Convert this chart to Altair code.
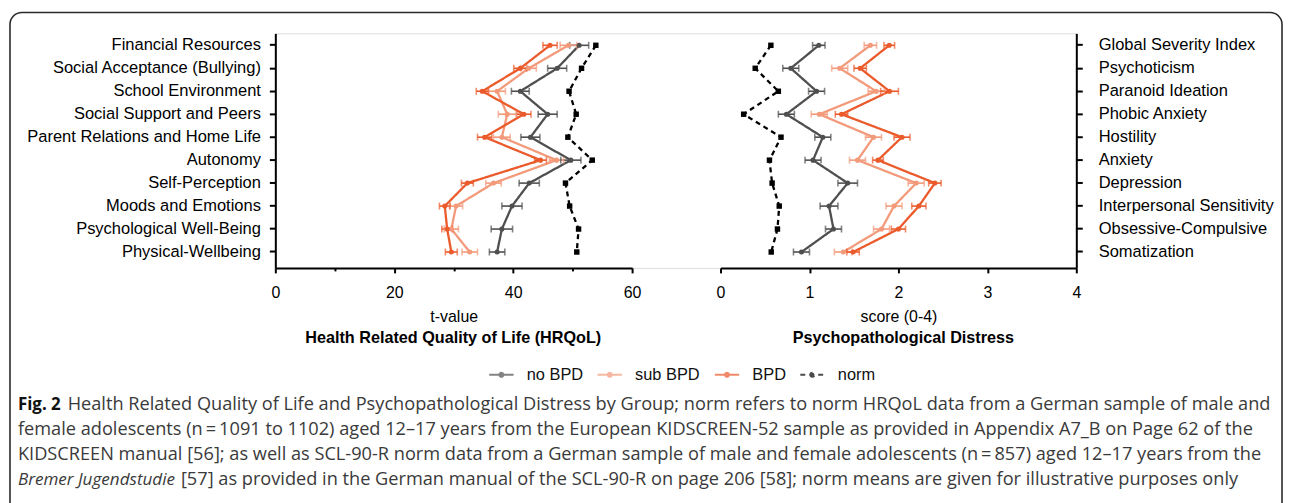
import altair as alt
import pandas as pd

# ---------------- data ----------------
hrqol_rows = ["Financial Resources", "Social Acceptance (Bullying)", "School Environment",
              "Social Support and Peers", "Parent Relations and Home Life", "Autonomy",
              "Self-Perception", "Moods and Emotions", "Psychological Well-Being",
              "Physical-Wellbeing"]
scl_rows = ["Global Severity Index", "Psychoticism", "Paranoid Ideation", "Phobic Anxiety",
            "Hostility", "Anxiety", "Depression", "Interpersonal Sensitivity",
            "Obsessive-Compulsive", "Somatization"]
groups = ["no BPD", "sub BPD", "BPD", "norm"]
group_colors = ["#4f4f4f", "#f39a7b", "#eb5a2b", "#000000"]

hrqol_no = [51.1, 47.4, 41.2, 45.8, 42.9, 49.7, 42.7, 39.8, 38.1, 37.3]
hrqol_sub = [49.3, 42.6, 37.3, 39.0, 38.1, 47.3, 36.7, 30.4, 29.6, 32.7]
hrqol_bpd = [46.2, 41.2, 34.8, 41.8, 35.2, 44.6, 32.3, 28.5, 28.9, 29.6]
hrqol_norm = [53.9, 51.5, 49.4, 50.6, 49.2, 53.3, 48.8, 49.5, 51.0, 50.7]
hrqol_no_err = [1.6, 1.6, 1.5, 1.6, 1.6, 1.7, 1.7, 1.7, 1.8, 1.3]
hrqol_sub_err = [1.4, 1.3, 1.4, 1.5, 1.4, 1.2, 1.3, 1.1, 1.2, 1.3]
hrqol_bpd_err = [1.2, 1.1, 1.0, 1.2, 1.2, 1.0, 1.0, 0.9, 0.9, 1.0]

scl_no = [1.105, 0.79, 1.08, 0.74, 1.15, 1.04, 1.43, 1.22, 1.27, 0.91]
scl_sub = [1.685, 1.34, 1.75, 1.11, 1.72, 1.54, 2.20, 1.95, 1.81, 1.38]
scl_bpd = [1.897, 1.57, 1.90, 1.36, 2.04, 1.77, 2.41, 2.23, 2.00, 1.49]
scl_norm = [0.566, 0.39, 0.65, 0.26, 0.68, 0.55, 0.58, 0.66, 0.64, 0.57]
scl_no_err = [0.07, 0.09, 0.09, 0.09, 0.09, 0.09, 0.11, 0.10, 0.09, 0.09]
scl_sub_err = [0.07, 0.09, 0.09, 0.09, 0.09, 0.09, 0.09, 0.09, 0.09, 0.10]
scl_bpd_err = [0.06, 0.07, 0.10, 0.07, 0.09, 0.06, 0.07, 0.08, 0.08, 0.07]

left_ticks = [0, 20, 40, 60]
left_minor_ticks = [10, 30, 50]
right_ticks = [0, 1, 2, 3, 4]

panel_titles = ["Health Related Quality of Life (HRQoL)", "Psychopathological Distress"]
axis_titles = ["t-value", "score (0-4)"]

caption_bold = "Fig. 2"
caption_lines = [
    "Health Related Quality of Life and Psychopathological Distress by Group; norm refers to norm HRQoL data from a German sample of male and",
    "female adolescents (n\u2009=\u20091091 to 1102) aged 12\u201317 years from the European KIDSCREEN-52 sample as provided in Appendix A7_B on Page 62 of the",
    "KIDSCREEN manual [56]; as well as SCL-90-R norm data from a German sample of male and female adolescents (n\u2009=\u2009857) aged 12\u201317 years from the",
    "[57] as provided in the German manual of the SCL-90-R on page 206 [58]; norm means are given for illustrative purposes only",
]
caption_italic = "Bremer Jugendstudie"


def long_df(rows, series, errs):
    recs = []
    for g, vals, err in zip(groups, series, errs):
        for i, (r, v) in enumerate(zip(rows, vals)):
            e = err[i] if err is not None else 0.0
            recs.append({"row": r, "idx": i, "group": g, "value": v,
                         "lo": v - e, "hi": v + e, "haserr": err is not None})
    return pd.DataFrame(recs)


left_df = long_df(hrqol_rows, [hrqol_no, hrqol_sub, hrqol_bpd, hrqol_norm],
                  [hrqol_no_err, hrqol_sub_err, hrqol_bpd_err, None])
right_df = long_df(scl_rows, [scl_no, scl_sub, scl_bpd, scl_norm],
                   [scl_no_err, scl_sub_err, scl_bpd_err, None])

# ---------------- styling ----------------
FONT = "Liberation Sans"
CAP_FONT = "Open Sans"

# plot origin on page: (277, 32); plot area spans both panels
W, H = 806, 236
PAD = {"left": 269, "top": 24, "right": 209, "bottom": 235}

legend_symbol = "M-1,0L1,0M-0.16,0A0.16,0.16,0,1,0,0.16,0A0.16,0.16,0,1,0,-0.16,0Z"
legend = alt.Legend(orient="none", legendX=214, legendY=330, direction="horizontal",
                    title=None, symbolType=legend_symbol, symbolSize=600, symbolStrokeWidth=2.2,
                    labelFont=FONT, labelFontSize=16.5, labelColor="#111", labelOffset=12,
                    columnPadding=9)
color = alt.Color("group:N", scale=alt.Scale(domain=groups, range=group_colors), legend=legend)
dash = alt.StrokeDash("group:N", scale=alt.Scale(domain=groups,
                      range=[[1, 0], [1, 0], [1, 0], [5, 4]]), legend=legend)

yscale_kw = dict(range=[0, H], paddingInner=0, paddingOuter=0.106, align=0.09)


def panel(df, rows, xdomain, xrange, ticks, xtitle, yorient, ypad):
    xaxis = alt.Axis(orient="bottom", values=ticks, tickSize=5, tickWidth=2, tickColor="black",
                     domainColor="black", domainWidth=2, labelFont=FONT, labelFontSize=16,
                     labelColor="black", labelPadding=12, title=xtitle, titleFont=FONT,
                     titleFontSize=16, titleFontWeight="normal", titleColor="black",
                     titlePadding=8, grid=False, labelFlush=False)
    yaxis = alt.Axis(orient=yorient, tickSize=6, tickWidth=2, tickColor="black",
                     domainColor="black", domainWidth=2, labelFont=FONT, labelFontSize=16.6,
                     labelColor="black", labelPadding=ypad, labelLimit=0, title=None, grid=False)
    xs = alt.Scale(domain=xdomain, range=xrange, nice=False, zero=False)
    ys = alt.Scale(**yscale_kw)
    base = alt.Chart(df)
    y = alt.Y("row:N", sort=rows, scale=ys, axis=yaxis)

    def X(f):
        return alt.X(f, type="quantitative", scale=xs, axis=xaxis)

    lines = base.mark_line(strokeWidth=2.3).encode(
        x=X("value"), y=y, color=color, strokeDash=dash, order=alt.Order("idx:Q"))
    err = base.transform_filter("datum.haserr").mark_rule(strokeWidth=1.6).encode(
        x=X("lo"), x2="hi:Q", y=y, color=color)
    cap_lo = base.transform_filter("datum.haserr").mark_tick(size=7, thickness=1.6).encode(
        x=X("lo"), y=y, color=color)
    cap_hi = base.transform_filter("datum.haserr").mark_tick(size=7, thickness=1.6).encode(
        x=X("hi"), y=y, color=color)
    pts = base.transform_filter("datum.haserr").mark_circle(size=26, opacity=1).encode(
        x=X("value"), y=y, color=color)
    norm_pts = base.transform_filter("!datum.haserr").mark_square(size=30, opacity=1, color="black").encode(
        x=X("value"), y=y)
    return alt.layer(lines, err, cap_lo, cap_hi, pts, norm_pts)


left_panel = panel(left_df, hrqol_rows, [0, 60], [0, 359], left_ticks, axis_titles[0], "left", 9)
right_panel = panel(right_df, scl_rows, [0, 4], [448, 806], right_ticks, axis_titles[1], "right", 16)

minor = alt.Chart(left_df).mark_point(opacity=0).encode(
    x=alt.X("value:Q", scale=alt.Scale(domain=[0, 60], range=[0, 359], nice=False, zero=False),
            axis=alt.Axis(orient="bottom", values=left_minor_ticks, tickSize=3, tickWidth=2,
                          tickColor="black", domain=False, labels=False, title=None, grid=False)))


def text_layer(txt, px, py, **kw):
    return alt.Chart(pd.DataFrame({"t": [txt]})).mark_text(baseline="middle", **kw).encode(
        text="t:N", x=alt.value(px - 277), y=alt.value(py - 32))


titles = [
    text_layer(panel_titles[0], 456, 339, align="center", font=FONT, fontSize=16.3,
               fontWeight="bold", color="black"),
    text_layer(panel_titles[1], 909, 339, align="center", font=FONT, fontSize=16.3,
               fontWeight="bold", color="black"),
]

cap_color = "#3a3a3a"
CS = 18.3
caps = [
    text_layer(caption_bold, 18, 406, align="left", font=CAP_FONT, fontSize=17,
               fontWeight="bold", color="#111"),
    text_layer(caption_lines[0], 68, 406, align="left", font=CAP_FONT, fontSize=CS, color=cap_color),
    text_layer(caption_lines[1], 18, 431, align="left", font=CAP_FONT, fontSize=CS, color=cap_color),
    text_layer(caption_lines[2], 18, 456, align="left", font=CAP_FONT, fontSize=CS, color=cap_color),
    text_layer(caption_italic, 18, 481, align="left", font=CAP_FONT, fontSize=17.2,
               fontStyle="italic", color=cap_color),
    text_layer(caption_lines[3], 182, 481, align="left", font=CAP_FONT, fontSize=CS, color=cap_color),
]

frame = alt.Chart(pd.DataFrame({"f": [1]})).mark_rect(
    fillOpacity=0, stroke="#2a2a2a", strokeWidth=1.6, cornerRadius=12).encode(
    x=alt.value(10 - 277), x2=alt.value(1290 - 277), y=alt.value(11 - 32), y2=alt.value(540 - 32))

chart = alt.layer(left_panel, minor, right_panel, *titles, *caps, frame).resolve_scale(
    x="independent", y="independent"
).properties(
    width=W, height=H, padding=PAD, autosize=alt.AutoSizeParams(type="none"),
    background="white"
).configure_view(strokeWidth=0).configure(font=FONT)

chart.save("out.html", embed_options={"renderer": "svg", "actions": False})
